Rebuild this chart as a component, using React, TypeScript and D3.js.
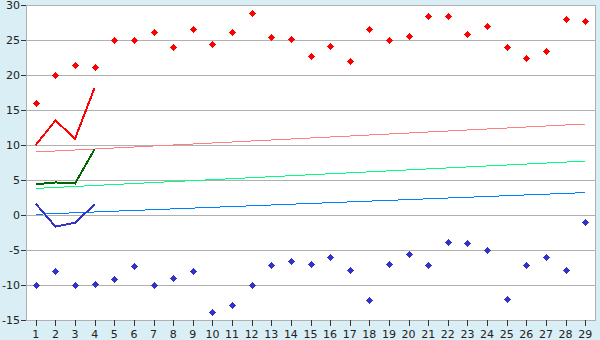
import React from "react";
import * as d3 from "d3";

const categories = Array.from({ length: 29 }, (_, i) => String(i + 1));
const yTicks = [-15, -10, -5, 0, 5, 10, 15, 20, 25, 30];
const yTickLabels = ["-15", "-10", "-5", "0", "5", "10", "15", "20", "25", "30"];

const highPoints = [16, 20, 21.5, 21.2, 25, 25, 26.1, 24, 26.5, 24.4, 26.2, 28.8, 25.4, 25.1, 22.7, 24.2, 22, 26.5, 25, 25.5, 28.4, 28.4, 25.8, 26.95, 24, 22.4, 23.4, 27.95, 27.7];
const lowPoints = [-10, -8, -10, -9.9, -9.2, -7.3, -10, -9, -8, -13.9, -12.8, -10, -7.2, -6.5, -7, -6, -7.8, -12.2, -7, -5.6, -7.2, -3.9, -4, -5, -12, -7.2, -6, -7.8, -1];

const redLine = [10.0, 13.5, 10.9, 18.2];
const greenLine = [4.4, 4.65, 4.5, 9.4];
const blueLine = [1.6, -1.65, -1.1, 1.5];

// trend lines: value at first and last category
const pinkTrend = [9.0, 13.0];
const greenTrend = [3.8, 7.7];
const blueTrend = [0.1, 3.2];

const W = 600, H = 340;
const L = 26, R = 595, T = 5, B = 320;

export default function App() {
  const x = d3.scaleBand<string>().domain(categories).range([L, R]);
  const cx = (c: string) => (x(c) as number) + x.bandwidth() / 2;
  const y = d3.scaleLinear().domain([-15, 30]).range([B, T]);
  const line = d3.line<[number, number]>().x(d => d[0]).y(d => d[1]);

  const series = (vals: number[]) => line(vals.map((v, i) => [cx(categories[i]), y(v)] as [number, number])) || "";
  const trend = (vals: number[]) =>
    line([
      [cx(categories[0]), y(vals[0])],
      [cx(categories[categories.length - 1]), y(vals[1])],
    ]) || "";

  const marker = "M-0.5,-3.5h1v1h1v1h1v1h1v1h-1v1h-1v1h-1v1h-1v-1h-1v-1h-1v-1h-1v-1h1v-1h1v-1h1z";
  const font = "'DejaVu Sans', Verdana, sans-serif";

  return (
    <svg width={W} height={H} style={{ position: "absolute", left: 0, top: 0, display: "block" }}>
      <rect x={0} y={0} width={W} height={H} fill="#daeef5" />
      <rect x={L} y={T} width={R - L} height={B - T} fill="#ffffff" />
      {yTicks.map((t, i) => (
        <g key={t}>
          <line x1={L} x2={R} y1={Math.round(y(t)) + 0.5} y2={Math.round(y(t)) + 0.5} stroke="#b0b0b0" />
          <line x1={21} x2={L} y1={Math.round(y(t)) + 0.5} y2={Math.round(y(t)) + 0.5} stroke="#333" />
          <text x={20} y={y(t)} dy="0.36em" textAnchor="end" fontFamily={font} fontSize={11} fill="#222">
            {yTickLabels[i]}
          </text>
        </g>
      ))}
      <line x1={L + 0.5} x2={L + 0.5} y1={T} y2={B + 1} stroke="#b0b0b0" />
      <line x1={R + 0.5} x2={R + 0.5} y1={T} y2={B + 1} stroke="#b0b0b0" />
      {categories.map(c => (
        <g key={c}>
          <line x1={Math.round(cx(c)) + 0.5} x2={Math.round(cx(c)) + 0.5} y1={B} y2={B + 6} stroke="#333" />
          <text x={cx(c)} y={338} textAnchor="middle" fontFamily={font} fontSize={11} fill="#222">
            {c}
          </text>
        </g>
      ))}
      <path d={trend(pinkTrend)} fill="none" stroke="#ff8080" strokeWidth={1} shapeRendering="crispEdges" />
      <path d={trend(greenTrend)} fill="none" stroke="#00ff80" strokeWidth={1} shapeRendering="crispEdges" />
      <path d={trend(blueTrend)} fill="none" stroke="#0080ff" strokeWidth={1} shapeRendering="crispEdges" />
      <path d={series(redLine)} fill="none" stroke="#ff0000" strokeWidth={2} shapeRendering="crispEdges" />
      <path d={series(greenLine)} fill="none" stroke="#006600" strokeWidth={2} shapeRendering="crispEdges" />
      <path d={series(blueLine)} fill="none" stroke="#3333cc" strokeWidth={2} shapeRendering="crispEdges" />
      {highPoints.map((v, i) => (
        <path key={"h" + i} d={marker} transform={`translate(${Math.round(cx(categories[i])) + 0.5},${Math.round(y(v)) + 0.5})`} fill="#ff0000" shapeRendering="crispEdges" />
      ))}
      {lowPoints.map((v, i) => (
        <path key={"l" + i} d={marker} transform={`translate(${Math.round(cx(categories[i])) + 0.5},${Math.round(y(v)) + 0.5})`} fill="#3333cc" shapeRendering="crispEdges" />
      ))}
    </svg>
  );
}
